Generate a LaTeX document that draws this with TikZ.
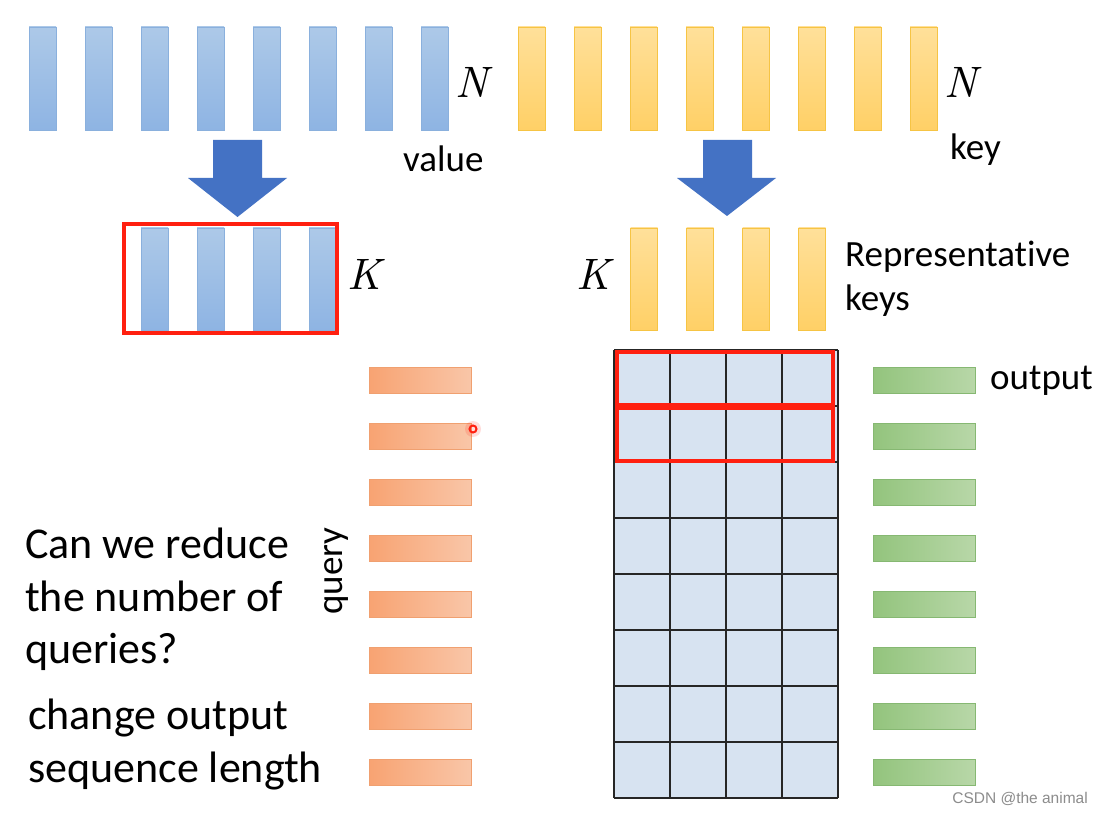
\documentclass[tikz,border=0pt]{standalone}
\usepackage{fontspec}
\setmainfont{Carlito}[Ligatures=NoCommon]
\newfontfamily\wmfont{Liberation Sans}
\newfontfamily\lmit{lmroman10-italic.otf}
\definecolor{bbtop}{HTML}{ADC9E8}
\definecolor{bbbot}{HTML}{8EB4E3}
\definecolor{bbline}{HTML}{8AB0DD}
\definecolor{yytop}{HTML}{FFE09A}
\definecolor{yybot}{HTML}{FFD066}
\definecolor{yyline}{HTML}{F6C444}
\definecolor{oleft}{HTML}{F8A372}
\definecolor{oright}{HTML}{F9C6A8}
\definecolor{oline}{HTML}{F0A070}
\definecolor{gleft}{HTML}{93C47D}
\definecolor{gright}{HTML}{B8D7A8}
\definecolor{gline}{HTML}{86B872}
\definecolor{gridfill}{HTML}{D7E3F1}
\definecolor{arrowblue}{HTML}{4472C4}
\definecolor{hired}{HTML}{FF2010}
\begin{document}
\begin{tikzpicture}[x=1pt,y=-1pt,
  vbase/.style={line width=0.8pt, minimum width=27pt, minimum height=103pt, inner sep=0pt, outer sep=0pt},
  bluebar/.style={vbase, draw=bbline, top color=bbtop, bottom color=bbbot},
  yellowbar/.style={vbase, draw=yyline, top color=yytop, bottom color=yybot},
  hbase/.style={line width=0.8pt, minimum width=102pt, minimum height=26pt, inner sep=0pt, outer sep=0pt},
  querybar/.style={hbase, draw=oline, left color=oleft, right color=oright},
  outbar/.style={hbase, draw=gline, left color=gleft, right color=gright},
  lbl/.style={font=\fontsize{37}{44}\selectfont, inner sep=0pt, anchor=base west},
  bigtxt/.style={font=\fontsize{44}{53}\selectfont, inner sep=0pt, anchor=base west},
  mathlbl/.style={font=\lmit\fontsize{44}{50}\selectfont, inner sep=0pt},
  blockarrow/.style={fill=arrowblue, draw=none},
  redbox/.style={draw=hired, line width=4pt},
  gridline/.style={draw=black!85, line width=1.1pt}
]
\useasboundingbox (0,0) rectangle (1101,813);
\fill[white] (0,0) rectangle (1101,813);

% top rows
\foreach \i in {0,...,7} {
  \node[bluebar] (v\i) at (42.5+56*\i,78.5) {};
  \node[yellowbar] (k\i) at (531.5+56*\i,78.5) {};
}
\node[mathlbl] (nv) at (472,82) {N};
\node[mathlbl] (nk) at (961,82) {N};
\node[lbl] (value) at (403,172) {value};
\node[lbl] (key) at (950,160) {key};

% block arrows
\path[blockarrow] (213,140) -- (262,140) -- (262,178) -- (287,178) -- (237.5,217) -- (188,178) -- (213,178) -- cycle;
\path[blockarrow] (703,140) -- (752,140) -- (752,178) -- (776,178) -- (727,216) -- (677,178) -- (703,178) -- cycle;

% reduced rows
\foreach \i in {0,...,3} {
  \node[bluebar, minimum height=102pt] (rv\i) at (154.5+56*\i,279) {};
  \node[yellowbar, minimum height=102pt] (rk\i) at (644+56*\i,279) {};
}
\node[redbox, minimum width=213pt, minimum height=109pt, inner sep=0pt] (vbox) at (230.5,278.5) {};
\node[mathlbl] (kv) at (364,274) {K};
\node[mathlbl] (kk) at (593,274) {K};
\node[lbl] (rep) at (845,267) {Representative};
\node[lbl] (keys) at (845,310) {keys};

% query and output bars
\foreach \i in {0,...,7} {
  \node[querybar] (q\i) at (420,380+56*\i) {};
  \node[outbar] (o\i) at (924,380+56*\i) {};
}
\node[lbl] (output) at (990,389) {output};
\node[font=\fontsize{37}{44}\selectfont, rotate=90, inner sep=0pt] (query) at (336,571) {query};

% attention grid
\node[fill=gridfill, minimum width=224pt, minimum height=448pt, inner sep=0pt, outer sep=0pt] (grid) at (726,574) {};
\foreach \c in {0,...,4} {
  \draw[gridline] (614+56*\c,350) -- (614+56*\c,798);
}
\foreach \r in {0,...,8} {
  \draw[gridline] (614,350+56*\r) -- (838,350+56*\r);
}
\draw[redbox] (617,352) rectangle (833,405);
\draw[redbox] (617,408) rectangle (833,461);

% laser pointer
\fill[hired, opacity=0.15] (473,429) circle (8);
\draw[hired, line width=2pt] (473,429) circle (3.5);

% left text
\node[bigtxt] (t1) at (25,558) {Can we reduce};
\node[bigtxt] (t2) at (25,611) {the number of};
\node[bigtxt] (t3) at (25,663) {queries?};
\node[bigtxt] (t4) at (28,729) {change output};
\node[bigtxt] (t5) at (28,782) {sequence length};

% watermark
\node[font=\wmfont\fontsize{15.5}{18}\selectfont, text=black!45, inner sep=0pt, anchor=base east] (wm) at (1088,803) {CSDN @the animal};
\end{tikzpicture}
\end{document}
